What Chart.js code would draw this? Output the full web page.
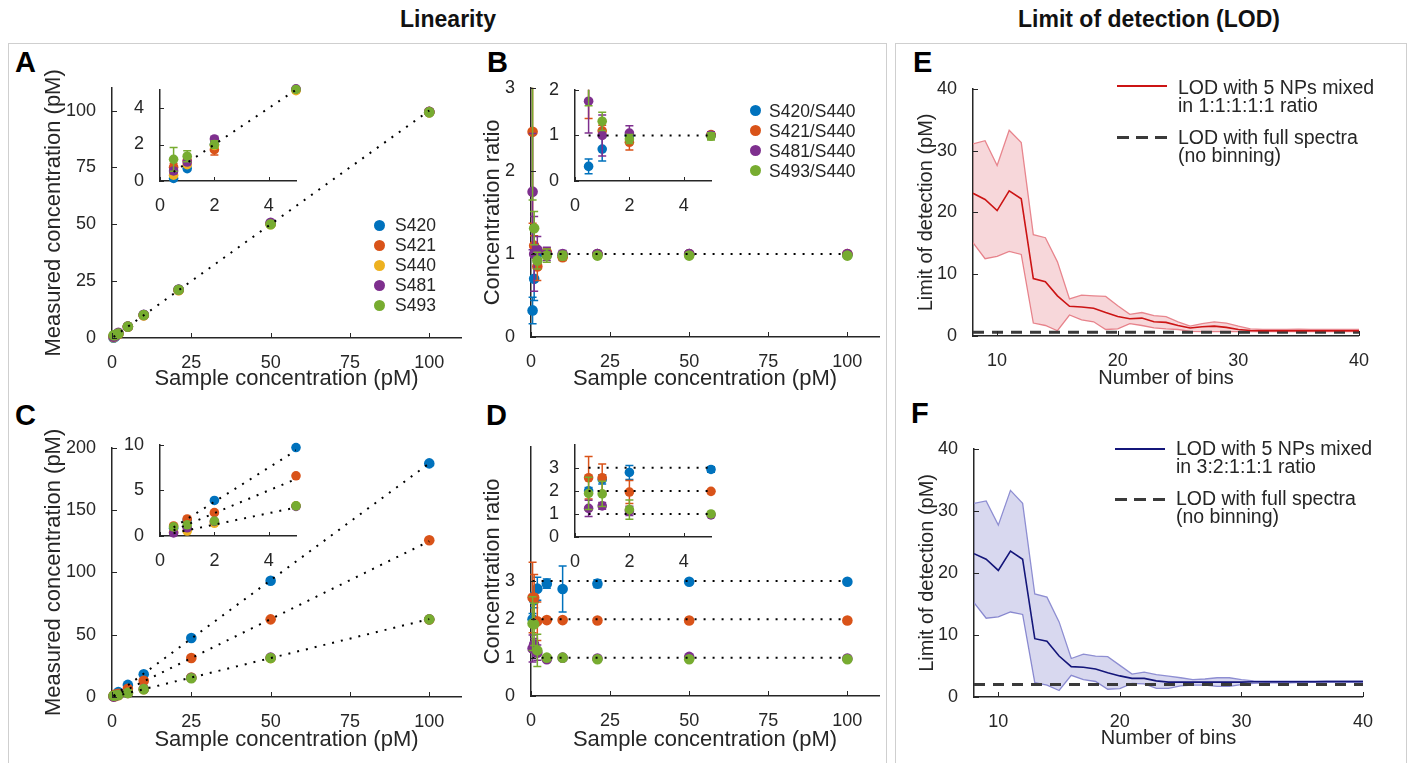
<!DOCTYPE html>
<html><head><meta charset="utf-8">
<script src="https://cdn.jsdelivr.net/npm/chart.js@4/dist/chart.umd.min.js"></script>
<style>
html,body{margin:0;padding:0;background:#fff;}
#root{position:relative;width:1411px;height:763px;overflow:hidden;font-family:'Liberation Sans',Arial,Helvetica,sans-serif;color:#262626;}
.box{position:absolute;border:1.5px solid #cfcfcf;box-sizing:border-box;}
.ttl{position:absolute;font-weight:bold;font-size:23px;line-height:23px;color:#111;white-space:nowrap;transform:translateX(-50%);}
.lt{position:absolute;font-weight:bold;font-size:29px;line-height:29px;color:#000;}
.leg{position:absolute;font-size:17.5px;line-height:20px;white-space:nowrap;}
.dot{position:absolute;width:11px;height:11px;border-radius:50%;}
.lg2{position:absolute;font-size:19.5px;line-height:17.5px;white-space:nowrap;}
.ln{position:absolute;height:0;}
canvas{position:absolute;}
</style></head><body>
<div id="root">
  <div class="box" style="left:8px;top:43px;width:879px;height:740px;"></div>
  <div class="box" style="left:895px;top:43px;width:512px;height:740px;"></div>
  <div class="ttl" style="left:448px;top:8px;">Linearity</div>
  <div class="ttl" style="left:1149px;top:8px;">Limit of detection (LOD)</div>
  <div class="lt" style="left:15px;top:48px;">A</div>
  <div class="lt" style="left:487px;top:48px;">B</div>
  <div class="lt" style="left:15px;top:401px;">C</div>
  <div class="lt" style="left:486px;top:401px;">D</div>
  <div class="lt" style="left:913px;top:48px;">E</div>
  <div class="lt" style="left:911px;top:399px;">F</div>
</div>
<script>
// ================= DATA =================
const seriesNames = ['S420', 'S421', 'S440', 'S481', 'S493'];
const ratioNames = ['S420/S440', 'S421/S440', 'S481/S440', 'S493/S440'];

const concAB = [0.5, 1, 2, 5, 10, 21, 50, 100];
const concC  = [0.5, 1, 2, 5, 10, 25, 50, 100];
const concD  = [0.5, 1, 2, 5, 10, 21, 50, 100];

// Panel A : measured concentration, 1:1:1:1:1 mix
const measA_S420 = [0.14, 0.68, 2.0, 5.0, 10.1, 21.2, 50.3, 99.3];
const measA_S421 = [0.76, 1.12, 1.72, 5.0, 10.0, 21.1, 50.2, 99.4];
const measA_S440 = [0.32, 0.9, 1.95, 4.95, 10.0, 21.0, 50.0, 99.2];
const measA_S481 = [0.55, 1.04, 2.3, 5.05, 10.2, 21.3, 50.7, 99.5];
const measA_S493 = [1.19, 1.36, 2.0, 5.02, 10.1, 21.2, 50.0, 99.3];
const errA_S420 = [0.08, 0.1, 0.15, 0.1, 0.3, 0.5, 0.8, 1.0];
const errA_S421 = [0.2, 0.15, 0.3, 0.1, 0.3, 0.5, 0.8, 1.0];
const errA_S440 = [0.1, 0.1, 0.15, 0.1, 0.3, 0.5, 0.8, 1.0];
const errA_S481 = [0.15, 0.15, 0.15, 0.1, 0.3, 0.5, 0.8, 1.0];
const errA_S493 = [0.65, 0.3, 0.2, 0.1, 0.3, 0.5, 0.8, 1.0];

// Panel B : concentration ratio, 1:1:1:1:1 mix
const ratioB_S420 = [0.32, 0.70, 1.0, 1.0, 0.98, 1.0, 1.0, 0.99];
const ratioB_S421 = [2.47, 1.1, 0.85, 1.02, 0.96, 1.0, 1.0, 1.0];
const ratioB_S481 = [1.75, 1.0, 1.05, 1.0, 1.0, 1.0, 1.0, 1.0];
const ratioB_S493 = [3.3, 1.31, 0.92, 0.98, 0.98, 0.98, 0.98, 0.98];
const errB_S420 = [0.16, 0.26, 0.05, 0.05, 0.04, 0.03, 0.02, 0.02];
const errB_S421 = [1.1, 0.12, 0.17, 0.05, 0.04, 0.03, 0.02, 0.02];
const errB_S481 = [0.7, 0.45, 0.16, 0.08, 0.04, 0.03, 0.02, 0.02];
const errB_S493 = [1.65, 0.2, 0.1, 0.08, 0.05, 0.03, 0.02, 0.02];

// Panel C : measured concentration, 3:2:1:1:1 mix
const measC_S420 = [0.85, 1.75, 3.9, 9.7, 18.2, 47.4, 93.3, 187.5];
const measC_S421 = [1.1, 1.87, 2.56, 6.6, 13.0, 31.3, 62.3, 125.8];
const measC_S440 = [0.42, 0.55, 1.4, 3.3, 6.3, 15.6, 31.2, 62.2];
const measC_S481 = [0.34, 0.9, 1.6, 3.25, 6.4, 15.4, 31.6, 62.3];
const measC_S493 = [1.0, 1.23, 1.64, 3.3, 6.3, 15.1, 31.3, 62.3];

// Panel D : concentration ratio, 3:2:1:1:1 mix
const ratioD_S420 = [2.0, 2.5, 2.8, 2.93, 2.79, 2.93, 2.98, 2.98];
const ratioD_S421 = [2.57, 2.57, 1.95, 1.98, 1.98, 1.97, 1.97, 1.97];
const ratioD_S481 = [1.24, 1.35, 1.13, 0.96, 1.0, 0.98, 1.02, 0.98];
const ratioD_S493 = [1.89, 1.87, 1.19, 1.0, 1.0, 0.96, 0.96, 0.96];
const errD_S420 = [0.15, 0.2, 0.3, 0.12, 0.6, 0.1, 0.03, 0.03];
const errD_S421 = [0.92, 0.6, 0.5, 0.06, 0.06, 0.04, 0.03, 0.03];
const errD_S481 = [0.35, 0.15, 0.2, 0.05, 0.04, 0.03, 0.03, 0.02];
const errD_S493 = [0.7, 0.55, 0.42, 0.05, 0.04, 0.03, 0.02, 0.02];

// Expected (reference dotted) lines
const expectedSlopeA = [1];
const expectedRatioB = [1];
const expectedSlopeC = [1.875, 1.25, 0.625];
const expectedRatioD = [3, 2, 1];

// Panels E/F : LOD vs number of bins
const bins = [8,9,10,11,12,13,14,15,16,17,18,19,20,21,22,23,24,25,26,27,28,29,30,31,32,33,34,35,36,37,38,39,40];
const lodE_mean  = [23.1,22.1,20.3,23.5,22.2,9.3,8.8,6.5,4.8,4.7,4.5,3.8,3.15,2.8,2.9,2.3,2.2,1.7,1.3,1.5,1.6,1.4,1.05,0.9,0.85,0.85,0.85,0.85,0.85,0.85,0.85,0.85,0.85];
const lodE_upper = [31.1,31.6,27.6,33.3,31.3,16.4,15.9,12.0,6.0,6.6,6.5,6.4,4.9,3.5,3.8,3.3,3.15,2.3,1.6,2.0,2.3,2.1,1.6,1.15,1.05,1.05,1.05,1.1,1.05,1.05,1.05,1.05,1.05];
const lodE_lower = [15.1,12.5,12.9,13.7,13.2,2.1,1.7,0.85,3.4,2.6,2.3,1.05,1.15,2.0,1.7,1.3,1.15,1.05,0.75,0.7,0.7,0.7,0.7,0.7,0.7,0.7,0.7,0.7,0.7,0.7,0.7,0.7,0.7];
const lodE_full = 0.6;
const lodF_mean  = [23.1,22.2,20.4,23.5,22.2,9.4,9.0,6.6,4.9,4.8,4.5,3.9,3.4,3.0,3.0,2.6,2.4,2.4,2.4,2.4,2.4,2.4,2.4,2.45,2.45,2.45,2.45,2.45,2.45,2.5,2.5,2.5,2.5];
const lodF_upper = [31.2,31.6,27.7,33.3,31.2,16.6,16.1,12.1,6.2,6.9,6.6,6.5,5.1,3.7,4.0,3.6,3.35,3.1,2.8,2.9,3.1,3.1,2.8,2.6,2.55,2.55,2.55,2.55,2.55,2.55,2.55,2.55,2.55];
const lodF_lower = [15.2,12.7,12.9,13.7,13.3,2.3,1.9,1.05,3.5,2.8,2.5,1.25,1.35,2.2,2.1,1.4,1.4,1.8,1.9,1.9,1.7,1.7,2.0,2.2,2.3,2.3,2.3,2.35,2.35,2.35,2.35,2.35,2.35];
const lodF_full = 2.0;

// Tick values
const ticksConcX = [0, 25, 50, 75, 100];
const ticksInsetX = [0, 2, 4];
const ticksAY = [0, 25, 50, 75, 100];
const ticksAInY = [0, 2, 4];
const ticksBY = [0, 1, 2, 3];
const ticksBInY = [0, 1, 2];
const ticksCY = [0, 50, 100, 150, 200];
const ticksCInY = [0, 5, 10];
const ticksDY = [0, 1, 2, 3];
const ticksDInY = [0, 1, 2, 3];
const ticksBinsX = [10, 20, 30, 40];
const ticksLodY = [0, 10, 20, 30, 40];

// ================= STYLE =================
const COL = {S420:'#0072BD', S421:'#D95319', S440:'#EDB120', S481:'#7E2F8E', S493:'#77AC30'};
const AX = '#262626';
Chart.defaults.font.family = "'Liberation Sans', Arial, Helvetica, sans-serif";
Chart.defaults.color = AX;
const root = document.getElementById('root');

const errorBarPlugin = {
  id: 'errbars',
  beforeDatasetDraw(chart, args) {
    const ds = chart.data.datasets[args.index];
    if (!ds.err) return;
    const xs = chart.scales.x, ys = chart.scales.y, a = chart.chartArea, ctx = chart.ctx;
    ctx.save();
    ctx.beginPath(); ctx.rect(a.left - 8, a.top, a.right - a.left + 16, a.bottom - a.top); ctx.clip();
    ctx.strokeStyle = ds.backgroundColor; ctx.lineWidth = 1.5;
    const cap = 4;
    ds.data.forEach((p, i) => {
      const e = ds.err[i]; if (!e) return;
      const px = xs.getPixelForValue(p.x);
      const lo = ys.getPixelForValue(p.y - e), hi = ys.getPixelForValue(p.y + e);
      ctx.beginPath();
      ctx.moveTo(px, lo); ctx.lineTo(px, hi);
      ctx.moveTo(px - cap, lo); ctx.lineTo(px + cap, lo);
      ctx.moveTo(px - cap, hi); ctx.lineTo(px + cap, hi);
      ctx.stroke();
    });
    ctx.restore();
  }
};
const inTickPlugin = {
  id: 'inTicks',
  afterDatasetsDraw(chart, args, opts) {
    const {ctx, chartArea: a, scales: {x, y}} = chart;
    const L = opts.len || 5;
    ctx.save(); ctx.strokeStyle = AX; ctx.lineWidth = 1;
    x.ticks.forEach(t => { const p = Math.round(x.getPixelForValue(t.value)) + 0.5;
      ctx.beginPath(); ctx.moveTo(p, a.bottom); ctx.lineTo(p, a.bottom - L); ctx.stroke(); });
    y.ticks.forEach(t => { const p = Math.round(y.getPixelForValue(t.value)) + 0.5;
      ctx.beginPath(); ctx.moveTo(a.left, p); ctx.lineTo(a.left + L, p); ctx.stroke(); });
    ctx.restore();
  }
};

function pts(xs, ys) { return xs.map((x, i) => ({x: x, y: ys[i]})); }
function scatterSet(color, xs, ys, errs, order, r) {
  return {type: 'scatter', data: pts(xs, ys), err: errs, backgroundColor: color, borderColor: color,
    pointRadius: r || 5.3, pointHoverRadius: r || 5.3, pointBorderWidth: 0, order: order, clip: 8};
}
function refSlope(xs, k) {
  const a = xs[0], b = xs[xs.length - 1];
  return {type: 'scatter', showLine: true, data: [{x: a, y: k * a}, {x: b, y: k * b}], borderColor: '#000',
    backgroundColor: '#000', borderWidth: 2, borderDash: [2, 7], pointRadius: 0, order: -1, clip: 0};
}
function refFlat(xs, r) {
  const a = xs[0], b = xs[xs.length - 1];
  return {type: 'scatter', showLine: true, data: [{x: a, y: r}, {x: b, y: r}], borderColor: '#000',
    backgroundColor: '#000', borderWidth: 2, borderDash: [2, 7], pointRadius: 0, order: -1, clip: 0};
}

function build(g, datasets, xr, yr) {
  const left = g.left, top = g.y0 - g.pt, W = g.x1 + g.pr - left, H = g.bottom - top;
  const cv = document.createElement('canvas');
  cv.width = W; cv.height = H;
  cv.style.left = left + 'px'; cv.style.top = top + 'px';
  cv.style.width = W + 'px'; cv.style.height = H + 'px';
  root.appendChild(cv);
  const axis = (r, isX) => ({
    type: 'linear', position: isX ? 'bottom' : 'left', min: r.min, max: r.max,
    grid: {display: false}, border: {display: true, color: AX, width: 1.5},
    ticks: {padding: isX ? g.xpad : g.ypad, font: {size: g.tick}, color: AX, maxRotation: 0, autoSkip: false},
    afterBuildTicks: s => { s.ticks = r.ticks.map(v => ({value: v})); },
    afterFit: s => { if (isX) s.height = g.bottom - g.y1; else s.width = g.x0 - left; },
    title: r.title ? {display: true, text: r.title, font: {size: g.ts}, color: AX, padding: 0} : {display: false}
  });
  return new Chart(cv, {
    type: 'scatter', data: {datasets: datasets},
    options: {responsive: false, animation: false, devicePixelRatio: 1, events: [],
      layout: {padding: {left: 0, top: g.pt, right: g.pr, bottom: 0}},
      plugins: {legend: {display: false}, tooltip: {enabled: false}, inTicks: {len: g.tl}},
      scales: {x: axis(xr, true), y: axis(yr, false)}},
    plugins: [errorBarPlugin, inTickPlugin]
  });
}

const base = {pt: 12, pr: 14, tick: 18, ts: 22, xpad: 6, ypad: 8, tl: 5};
const inset = {pt: 12, pr: 12, tick: 18, ts: 0, xpad: 6, ypad: 8, tl: 4};

// ----- Panel A -----
function setsA(r) {
  return [
    scatterSet(COL.S420, concAB, measA_S420, errA_S420, 5, r),
    scatterSet(COL.S421, concAB, measA_S421, errA_S421, 4, r),
    scatterSet(COL.S440, concAB, measA_S440, errA_S440, 3, r),
    scatterSet(COL.S481, concAB, measA_S481, errA_S481, 2, r),
    scatterSet(COL.S493, concAB, measA_S493, errA_S493, 1, r),
    refSlope(concAB, expectedSlopeA[0])
  ];
}
build(Object.assign({}, base, {x0: 112, x1: 461, y0: 81, y1: 338, left: 41, bottom: 392}), setsA(),
  {min: 0, max: 110, ticks: ticksConcX, title: 'Sample concentration (pM)'},
  {min: 0, max: 110, ticks: ticksAY, title: 'Measured concentration (pM)'});
build(Object.assign({}, inset, {x0: 160, x1: 296, y0: 83, y1: 181, left: 118, bottom: 211}), setsA(4.8),
  {min: 0, max: 5, ticks: ticksInsetX}, {min: 0, max: 5, ticks: ticksAInY});

// ----- Panel B -----
function setsB(r) {
  return [
    scatterSet(COL.S420, concAB, ratioB_S420, errB_S420, 4, r),
    scatterSet(COL.S421, concAB, ratioB_S421, errB_S421, 3, r),
    scatterSet(COL.S481, concAB, ratioB_S481, errB_S481, 2, r),
    scatterSet(COL.S493, concAB, ratioB_S493, errB_S493, 1, r),
    refFlat(concAB, expectedRatioB[0])
  ];
}
build(Object.assign({}, base, {x0: 531, x1: 879, y0: 81, y1: 337, left: 480, bottom: 392}), setsB(),
  {min: 0, max: 110, ticks: ticksConcX, title: 'Sample concentration (pM)'},
  {min: 0, max: 3, ticks: ticksBY, title: 'Concentration ratio'});
build(Object.assign({}, inset, {x0: 575, x1: 711, y0: 83, y1: 181, left: 533, bottom: 211}), setsB(4.8),
  {min: 0, max: 5, ticks: ticksInsetX}, {min: 0, max: 2, ticks: ticksBInY});

// ----- Panel C -----
function setsC(r) {
  const s = [
    scatterSet(COL.S420, concC, measC_S420, null, 5, r),
    scatterSet(COL.S421, concC, measC_S421, null, 4, r),
    scatterSet(COL.S440, concC, measC_S440, null, 3, r),
    scatterSet(COL.S481, concC, measC_S481, null, 2, r),
    scatterSet(COL.S493, concC, measC_S493, null, 1, r)
  ];
  expectedSlopeC.forEach(k => s.push(refSlope(concC, k)));
  return s;
}
build(Object.assign({}, base, {x0: 112, x1: 461, y0: 441, y1: 697, left: 41, bottom: 753}), setsC(),
  {min: 0, max: 110, ticks: ticksConcX, title: 'Sample concentration (pM)'},
  {min: 0, max: 200, ticks: ticksCY, title: 'Measured concentration (pM)'});
build(Object.assign({}, inset, {x0: 160, x1: 296, y0: 438, y1: 536, left: 115, bottom: 566}), setsC(4.8),
  {min: 0, max: 5, ticks: ticksInsetX}, {min: 0, max: 10, ticks: ticksCInY});

// ----- Panel D -----
function setsD(r) {
  const s = [
    scatterSet(COL.S420, concD, ratioD_S420, errD_S420, 4, r),
    scatterSet(COL.S421, concD, ratioD_S421, errD_S421, 3, r),
    scatterSet(COL.S481, concD, ratioD_S481, errD_S481, 2, r),
    scatterSet(COL.S493, concD, ratioD_S493, errD_S493, 1, r)
  ];
  expectedRatioD.forEach(v => s.push(refFlat(concD, v)));
  return s;
}
build(Object.assign({}, base, {x0: 531, x1: 879, y0: 440, y1: 696, left: 480, bottom: 753}), setsD(),
  {min: 0, max: 110, ticks: ticksConcX, title: 'Sample concentration (pM)'},
  {min: 0, max: 6.5, ticks: ticksDY, title: 'Concentration ratio'});
build(Object.assign({}, inset, {x0: 575, x1: 711, y0: 438, y1: 537, left: 533, bottom: 567}), setsD(4.8),
  {min: 0, max: 5, ticks: ticksInsetX}, {min: 0, max: 4, ticks: ticksDInY});

// ----- Panels E / F -----
function lodSets(mean, upper, lower, full, cMean, cEdge, cFill) {
  return [
    {type: 'line', data: pts(bins, mean), borderColor: cMean, borderWidth: 1.6, pointRadius: 0, tension: 0, fill: false, order: 0},
    {type: 'line', data: pts(bins, bins.map(() => full)), borderColor: '#3a3a3a', borderWidth: 3, borderDash: [11, 8], pointRadius: 0, fill: false, order: 1},
    {type: 'line', data: pts(bins, upper), borderColor: cEdge, borderWidth: 1.3, pointRadius: 0, tension: 0, fill: '+1', backgroundColor: cFill, order: 2},
    {type: 'line', data: pts(bins, lower), borderColor: cEdge, borderWidth: 1.3, pointRadius: 0, tension: 0, fill: false, order: 3}
  ];
}
const lodBase = {pt: 12, pr: 16, tick: 18, ts: 20, xpad: 6, ypad: 8, tl: 5};
build(Object.assign({}, lodBase, {x0: 973, x1: 1359, y0: 82, y1: 336, left: 914, bottom: 390}),
  lodSets(lodE_mean, lodE_upper, lodE_lower, lodE_full, '#CC1414', '#E8868E', 'rgba(225,110,122,0.28)'),
  {min: 8, max: 40, ticks: ticksBinsX, title: 'Number of bins'},
  {min: 0, max: 40, ticks: ticksLodY, title: 'Limit of detection (pM)'});
build(Object.assign({}, lodBase, {x0: 974, x1: 1363, y0: 442, y1: 697, left: 915, bottom: 750}),
  lodSets(lodF_mean, lodF_upper, lodF_lower, lodF_full, '#14167A', '#8E8ED2', 'rgba(110,110,195,0.27)'),
  {min: 8, max: 40, ticks: ticksBinsX, title: 'Number of bins'},
  {min: 0, max: 40, ticks: ticksLodY, title: 'Limit of detection (pM)'});

// ================= LEGENDS (HTML text) =================
function dotLegend(names, colors, cx, textLeft, y0, step) {
  names.forEach((n, i) => {
    const yc = y0 + i * step;
    const d = document.createElement('div'); d.className = 'dot';
    d.style.left = (cx - 5.5) + 'px'; d.style.top = (yc - 5.5) + 'px'; d.style.background = colors[i];
    root.appendChild(d);
    const t = document.createElement('div'); t.className = 'leg'; t.textContent = n;
    t.style.left = textLeft + 'px'; t.style.top = (yc - 10) + 'px';
    root.appendChild(t);
  });
}
dotLegend(seriesNames, seriesNames.map(n => COL[n]), 379, 395, 225, 20);
dotLegend(ratioNames, ['S420','S421','S481','S493'].map(n => COL[n]), 755, 769, 110.5, 20);

function lodLegend(x0, x1, textLeft, yLine1, top1, yLine2, top2, color, ratioText) {
  const l1 = document.createElement('div'); l1.className = 'ln';
  l1.style.cssText = `left:${x0}px;top:${yLine1 - 1}px;width:${x1 - x0}px;border-top:2px solid ${color};`;
  root.appendChild(l1);
  const t1 = document.createElement('div'); t1.className = 'lg2';
  t1.style.left = textLeft + 'px'; t1.style.top = top1 + 'px';
  t1.innerHTML = 'LOD with 5 NPs mixed<br>in ' + ratioText + ' ratio';
  root.appendChild(t1);
  const l2 = document.createElement('div'); l2.className = 'ln';
  l2.style.cssText = `left:${x0}px;top:${yLine2 - 1.5}px;width:${x1 - x0}px;height:3px;background:repeating-linear-gradient(90deg,#3a3a3a 0 12px,transparent 12px 19px);`;
  root.appendChild(l2);
  const t2 = document.createElement('div'); t2.className = 'lg2';
  t2.style.left = textLeft + 'px'; t2.style.top = top2 + 'px';
  t2.innerHTML = 'LOD with full spectra<br>(no binning)';
  root.appendChild(t2);
}
lodLegend(1117, 1167, 1178, 86, 79, 137.5, 129, '#CC1414', '1:1:1:1:1');
lodLegend(1115, 1165, 1176, 449, 440, 499, 490, '#14167A', '3:2:1:1:1');
</script>
</body></html>
